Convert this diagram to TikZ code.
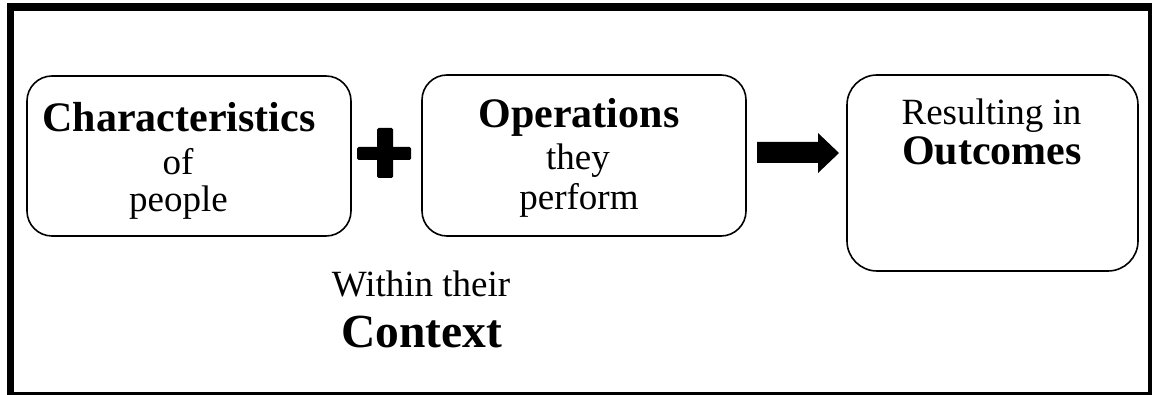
\documentclass[tikz,border=0pt]{standalone}
\usepackage{fontspec}
\setmainfont{Liberation Serif}
\begin{document}
\begin{tikzpicture}[x=1pt,y=-1pt,
  box/.style={draw=black, line width=1.6pt, rounded corners=#1, fill=white},
  box/.default=25pt,
  reg/.style={anchor=base, inner sep=0pt, font=\fontsize{37}{37}\selectfont},
  bld/.style={anchor=base, inner sep=0pt, font=\bfseries\fontsize{42}{42}\selectfont},
  big/.style={anchor=base, inner sep=0pt, font=\bfseries\fontsize{47.5}{47.5}\selectfont}]
\useasboundingbox (0,0) rectangle (1152,395);
% frame
\draw[line width=7.5pt] (10.5,7) rectangle (1152,396);
% boxes
\draw[box] (27,76) rectangle (351,236);
\node[inner sep=0pt, minimum width=324pt, minimum height=160pt] (b1) at (189,156) {};
\draw[box] (422,75) rectangle (746,236);
\node[inner sep=0pt, minimum width=324pt, minimum height=161pt] (b2) at (584,155.5) {};
\draw[box=30pt] (847,75) rectangle (1138,271);
\node[inner sep=0pt, minimum width=291pt, minimum height=196pt] (b3) at (992.5,173) {};
% texts
\node[bld] (c1) at (179,132) {Characteristics};
\node[reg] (c2) at (178,175) {of};
\node[reg] (c3) at (178.5,212) {people};
\node[bld] (o1) at (579,128) {Operations};
\node[reg] (o2) at (578,170) {they};
\node[reg] (o3) at (579,210) {perform};
\node[reg] (r1) at (991.5,125) {Resulting in};
\node[bld] (r2) at (992,165) {Outcomes};
\node[reg] (w1) at (421,297) {Within their};
\node[big] (w2) at (421.5,348) {Context};
% plus
\node[inner sep=0pt, minimum size=54pt] (plus) at (384,153) {};
\fill[rounded corners=1.5pt] (377,128) rectangle (393,178);
\fill[rounded corners=1.5pt] (357,147) rectangle (411,160);
% arrow
\coordinate (atip) at (839,153);
\fill (757,142) -- (818,142) -- (818,133) -- (atip) -- (818,173) -- (818,163) -- (757,163) -- cycle;
\end{tikzpicture}
\end{document}
